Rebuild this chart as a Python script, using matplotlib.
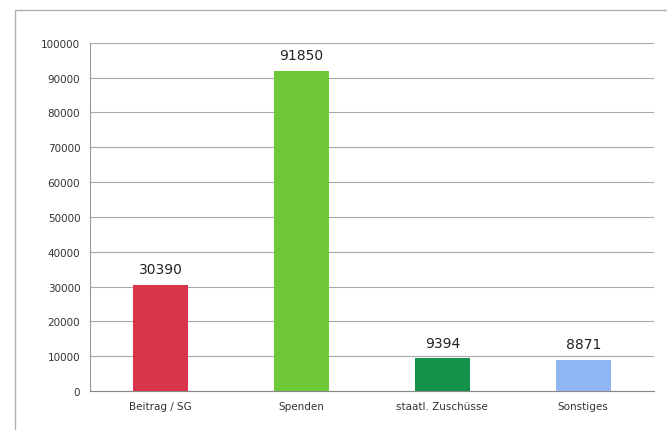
import matplotlib.pyplot as plt
from matplotlib.patches import Rectangle

categories = ['Beitrag / SG', 'Spenden', 'staatl. Zuschüsse', 'Sonstiges']
values = [30390, 91850, 9394, 8871]
colors = ['#d8354b', '#6fc836', '#12924a', '#8fb6f2']
y_ticks = list(range(0, 100001, 10000))

fig = plt.figure(figsize=(6.67, 4.31), dpi=100)
ax = fig.add_axes([0.135, 0.0905, 0.845, 0.808])

x = list(range(len(categories)))
bars = ax.bar(x, values, width=0.39, color=colors, zorder=3)

for xi, v in zip(x, values):
    ax.text(xi, v + 2500, str(v), ha='center', va='bottom', fontsize=10, color='#222222')

ax.set_xlim(-0.5, len(categories) - 0.5)
ax.set_ylim(0, 100000)
ax.set_yticks(y_ticks)
ax.set_yticklabels([str(t) for t in y_ticks], fontsize=7.5, color='#333333')
ax.set_xticks(x)
ax.set_xticklabels(categories, fontsize=7.5, color='#333333')
ax.tick_params(axis='both', length=0, pad=7)
ax.grid(axis='y', color='#a8a8a8', linewidth=0.8, zorder=0)

for side in ['top', 'right']:
    ax.spines[side].set_visible(False)
ax.spines['left'].set_color('#999999')
ax.spines['bottom'].set_color('#888888')

# outer chart frame
fig.patches.append(Rectangle((0.022, -0.05), 1.2, 1.025, transform=fig.transFigure,
                             fill=False, edgecolor='#b0b0b0', linewidth=1.0))

fig.savefig('out.png', dpi=100)
